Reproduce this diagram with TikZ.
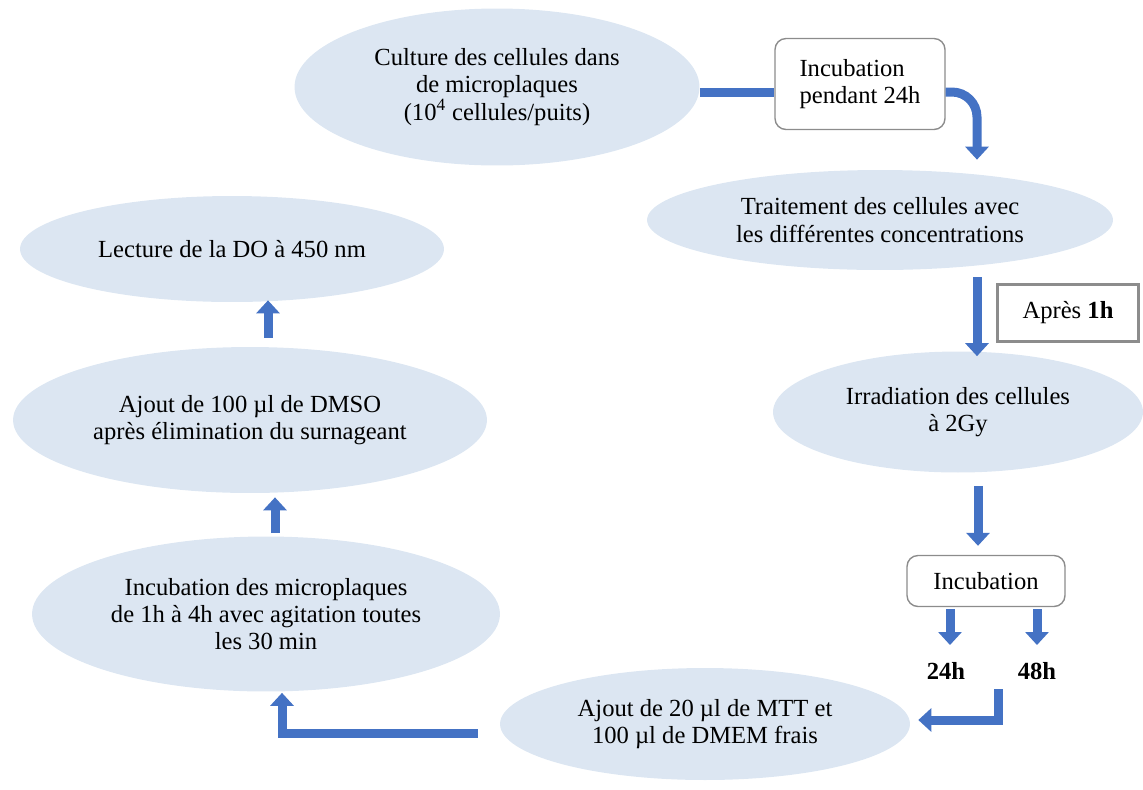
\documentclass[tikz,border=0pt]{standalone}
\usepackage{fontspec}
\setmainfont{Liberation Serif}
\usetikzlibrary{shapes.geometric,arrows.meta,calc}
\definecolor{ellfill}{RGB}{220,230,242}
\definecolor{arrblue}{RGB}{68,114,196}
\definecolor{boxgray}{RGB}{140,140,140}
\begin{document}
\begin{tikzpicture}[x=0.02cm,y=-0.02cm,
  txt/.style={font=\fontsize{14}{15.5}\selectfont},
  ell/.style={ellipse, fill=ellfill, draw=none, inner sep=0pt, align=center, txt},
  bar/.style={draw=arrblue, line width=0.18cm},
  arr/.style={bar, -{Triangle[width=0.46cm,length=0.26cm]}},
  rbox/.style={draw=boxgray, rounded corners=0.22cm, fill=white, line width=0.8pt, inner sep=0pt, txt},
  lbl/.style={font=\bfseries\fontsize{14}{15.5}\selectfont, inner sep=0pt, anchor=north}]
\useasboundingbox (0,0) rectangle (1143,789);

% ellipses
\node[ell, minimum width=8.1cm, minimum height=3.14cm] (culture) at (497,87)
  {Culture des cellules dans\\de microplaques\\(10\textsuperscript{4} cellules/puits)};
\node[ell, minimum width=9.32cm, minimum height=2.0cm] (trait) at (880,220)
  {Traitement des cellules avec\\les différentes concentrations};
\node[ell, minimum width=7.4cm, minimum height=2.42cm] (irr) at (958,412)
  {Irradiation des cellules\\à 2Gy};
\node[ell, minimum width=8.2cm, minimum height=2.24cm] (mtt) at (705,724)
  {Ajout de 20 µl de MTT et\\100 µl de DMEM frais};
\node[ell, minimum width=9.36cm, minimum height=3.1cm] (incm) at (266,614)
  {Incubation des microplaques\\de 1h à 4h avec agitation toutes\\les 30 min};
\node[ell, minimum width=9.48cm, minimum height=2.92cm] (dmso) at (250,420)
  {Ajout de 100 µl de DMSO\\après élimination du surnageant};
\node[ell, minimum width=8.48cm, minimum height=2.12cm] (lect) at (232,249)
  {Lecture de la DO à 450 nm};

% boxes
\node[rbox, minimum width=3.4cm, minimum height=1.82cm, align=left] (inc1) at (860,84)
  {Incubation\\pendant 24h};
\node[draw=boxgray, fill=white, line width=1.2pt, inner sep=0pt, txt,
      minimum width=2.82cm, minimum height=1.14cm] (apres) at (1068,313)
  {Après \textbf{1h}};
\node[rbox, minimum width=3.16cm, minimum height=1.02cm] (inc2) at (986,581)
  {Incubation};

% labels
\node[lbl] (h24) at (946,662) {24h};
\node[lbl] (h48) at (1037,662) {48h};

% connectors
\draw[bar] ($(culture.east)+(0,5)$) -- ($(inc1.west)+(0,8)$);
\draw[arr, rounded corners=0.5cm] ($(inc1.east)+(0,8)$) -| ($(trait.north)+(97,-10)$);
\draw[arr] ($(trait.south)+(97,7)$) -- ($(irr.north)+(19,5)$);
\draw[arr] ($(irr.south)+(20,13)$) -- ($(inc2.north)+(-8,-9)$);
\draw[arr] ($(inc2.south -| h24.north)+(4,2)$) -- ($(h24.north)+(4,-17)$);
\draw[arr] ($(inc2.south -| h48.north)+(0,2)$) -- ($(h48.north)+(0,-17)$);
\draw[arr] ($(h48.south)+(-39,9)$) |- ($(mtt.east)+(8,-4)$);
\draw[arr] ($(mtt.west)+(-22,9)$) -| ($(incm.south)+(16,1)$);
\draw[arr] ($(incm.north)+(9,-3)$) -- ($(dmso.south)+(25,4)$);
\draw[arr] ($(dmso.north)+(18,-9)$) -- ($(lect.south)+(36,-2)$);
\end{tikzpicture}
\end{document}
